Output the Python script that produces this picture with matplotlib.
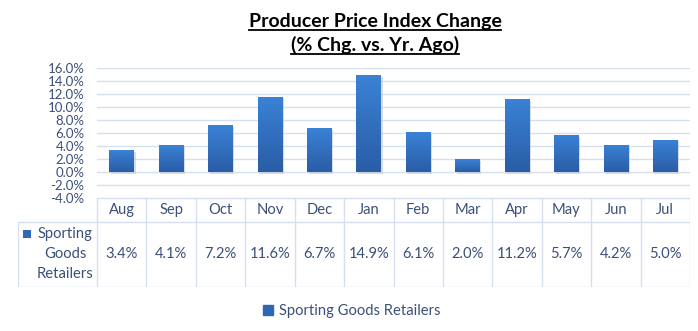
import numpy as np
import matplotlib
matplotlib.use("Agg")
import matplotlib.pyplot as plt
from matplotlib.lines import Line2D
from matplotlib.patches import Rectangle
from matplotlib.colors import LinearSegmentedColormap

months = ["Aug", "Sep", "Oct", "Nov", "Dec", "Jan", "Feb", "Mar", "Apr", "May", "Jun", "Jul"]
pct_chg = [3.4, 4.1, 7.2, 11.6, 6.7, 14.9, 6.1, 2.0, 11.2, 5.7, 4.2, 5.0]
series_name = "Sporting Goods Retailers"
y_ticks = [-4, -2, 0, 2, 4, 6, 8, 10, 12, 14, 16]

plt.rcParams["font.family"] = ["Lato", "DejaVu Sans"]
TXT = "#3B5078"
GRID = "#D5DFEE"
BAR_TOP = "#3A82D6"
BAR_BOT = "#2A5DA6"

W, H = 698, 331
fig = plt.figure(figsize=(W / 100, H / 100), dpi=100)

def fx(px):
    return px / W

def fy(py):
    return 1 - py / H

# main chart area: x 97..690 px, y 68..198 px
ax = fig.add_axes([fx(97), fy(198), fx(690) - fx(97), fy(68) - fy(198)])
x = np.arange(len(months))
ax.set_xlim(-0.5, len(months) - 0.5)
ax.set_ylim(-4, 16)
ax.set_yticks(y_ticks)
ax.set_yticklabels([f"{v:.1f}%" for v in y_ticks], color=TXT, fontsize=9.5)
ax.tick_params(axis="y", length=0, pad=9)
ax.set_xticks([])
for s in ax.spines.values():
    s.set_visible(False)
for v in y_ticks:
    ax.axhline(v, color=GRID, lw=1, zorder=0)

cmap = LinearSegmentedColormap.from_list("bar", [BAR_BOT, BAR_TOP])
grad = np.linspace(0, 1, 64).reshape(-1, 1)
bars = ax.bar(x, pct_chg, width=0.5, color=BAR_TOP, zorder=2)
for b in bars:
    bx, bw, bh = b.get_x(), b.get_width(), b.get_height()
    # soft shadow
    ax.add_patch(Rectangle((bx + 0.03, -0.25), bw, bh, color="#BFC6D2",
                           alpha=0.6, lw=0, zorder=1))
    im = ax.imshow(grad, cmap=cmap, origin="lower", aspect="auto",
                   extent=(bx, bx + bw, 0, bh), zorder=3)
    im.set_clip_path(b)
ax.set_xlim(-0.5, len(months) - 0.5)
ax.set_ylim(-4, 16)

# data table below: x 18..690 px, y 198..287 px
tab = fig.add_axes([fx(18), fy(287), fx(690) - fx(18), fy(198) - fy(287)])
col_px = (690 - 97) / len(months)
lab_w = (97 - 18) / col_px
tab.set_xlim(-0.5 - lab_w, len(months) - 0.5)
tab.set_ylim(0, 1)
tab.axis("off")
hdr = 65 / 89
tab.plot([-0.5, len(months) - 0.5], [1, 1], color=GRID, lw=1)
tab.plot([-0.5 - lab_w, len(months) - 0.5], [hdr, hdr], color=GRID, lw=1)
tab.plot([-0.5 - lab_w, len(months) - 0.5], [0, 0], color=GRID, lw=1)
tab.plot([-0.5 - lab_w] * 2, [0, hdr], color=GRID, lw=1)
for i in range(len(months) + 1):
    tab.plot([i - 0.5] * 2, [0, 1], color=GRID, lw=1)
for i, (m, v) in enumerate(zip(months, pct_chg)):
    tab.text(i, (1 + hdr) / 2, m, ha="center", va="center", color=TXT, fontsize=10.6)
    tab.text(i, hdr / 2, f"{v:.1f}%", ha="center", va="center", color=TXT, fontsize=10.6)
lx = -0.5 - (97 - 65.5) / col_px
for word, py in zip(series_name.split(), [234, 254, 274]):
    tab.text(lx, (287 - py) / 89, word, ha="center", va="center",
             color=TXT, fontsize=10.6)
tab.add_patch(Rectangle((-0.5 - (97 - 23) / col_px, (287 - 237.5) / 89), 8 / col_px, 8 / 89,
                        color="#2F67B5", lw=0))

# legend
handle = Rectangle((0, 0), 1, 1, color="#2F67B5")
fig.legend([handle], [series_name], loc="center", bbox_to_anchor=(fx(352), fy(311)),
           frameon=False, fontsize=10.6, handlelength=0.7, handleheight=0.7,
           handletextpad=0.4, labelcolor=TXT)

# underlined title
fig.canvas.draw()
rend = fig.canvas.get_renderer()
for txt, ybase, yline in [("Producer Price Index Change", 27, 30),
                          ("(% Chg. vs. Yr. Ago)", 51, 54)]:
    t = fig.text(fx(375), fy(ybase), txt, ha="center", va="baseline",
                 fontsize=14, fontweight="bold", color="black")
    bb = t.get_window_extent(rend)
    fig.add_artist(Line2D([bb.x0 / W, bb.x1 / W], [fy(yline)] * 2,
                          color="black", lw=1.3, transform=fig.transFigure))

fig.savefig("out.png", dpi=100)
